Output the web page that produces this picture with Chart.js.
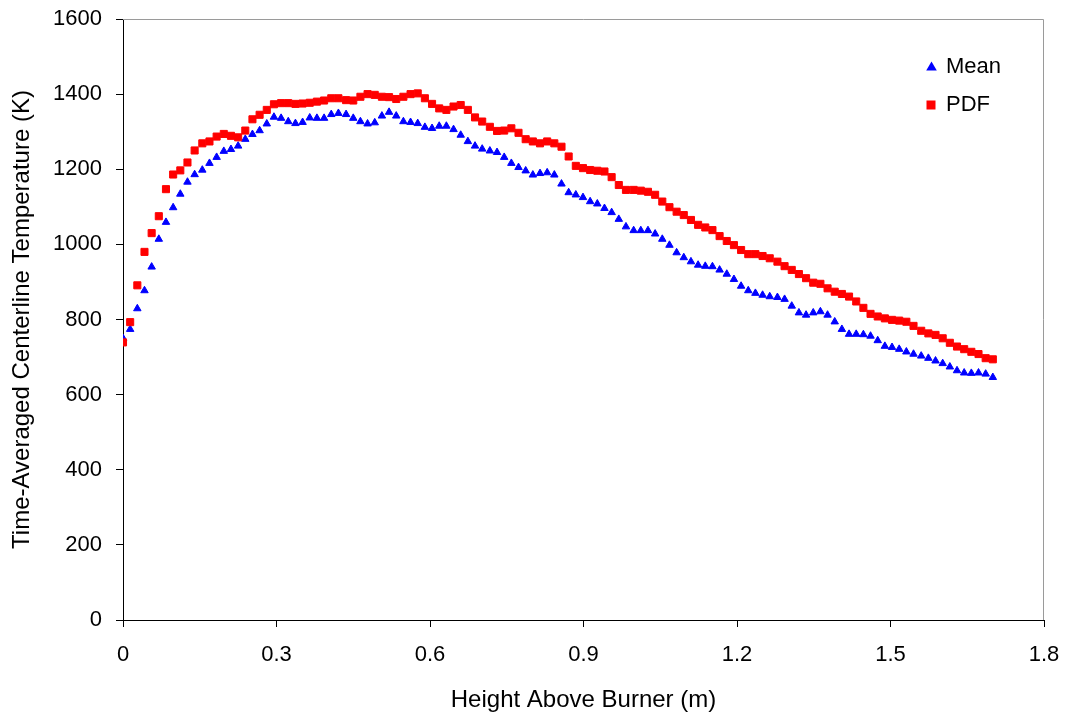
<!DOCTYPE html>
<html>
<head>
<meta charset="utf-8">
<script src="https://cdn.jsdelivr.net/npm/chart.js@4/dist/chart.umd.min.js"></script>
<style>
  html, body { margin: 0; padding: 0; background: #ffffff; }
  #wrap { width: 1067px; height: 713px; position: relative; }
  canvas { display: block; }
</style>
</head>
<body>
<div id="wrap"><canvas id="c" width="1067" height="713"></canvas></div>
<script>
// Height above burner (m)
const heights = [
  0, 0.014, 0.028, 0.042, 0.056, 0.070, 0.084, 0.098, 0.112, 0.126,
  0.140, 0.155, 0.169, 0.183, 0.197, 0.211, 0.225, 0.239, 0.253, 0.267,
  0.281, 0.295, 0.309, 0.323, 0.337, 0.351, 0.365, 0.379, 0.393, 0.407,
  0.421, 0.436, 0.450, 0.464, 0.478, 0.492, 0.506, 0.520, 0.534, 0.548,
  0.562, 0.576, 0.590, 0.604, 0.618, 0.632, 0.646, 0.660, 0.674, 0.688,
  0.702, 0.717, 0.731, 0.745, 0.759, 0.773, 0.787, 0.801, 0.815, 0.829,
  0.843, 0.857, 0.871, 0.885, 0.899, 0.913, 0.927, 0.941, 0.955, 0.969,
  0.983, 0.998, 1.012, 1.026, 1.040, 1.054, 1.068, 1.082, 1.096, 1.110,
  1.124, 1.138, 1.152, 1.166, 1.180, 1.194, 1.208, 1.222, 1.236, 1.250,
  1.264, 1.279, 1.293, 1.307, 1.321, 1.335, 1.349, 1.363, 1.377, 1.391,
  1.405, 1.419, 1.433, 1.447, 1.461, 1.475, 1.489, 1.503, 1.517, 1.531,
  1.545, 1.560, 1.574, 1.588, 1.602, 1.616, 1.630, 1.644, 1.658, 1.672,
  1.686, 1.700
];

// Mean temperature (K)
const meanTemp = [
  750, 774, 829, 877, 940, 1014, 1059, 1098, 1134, 1166,
  1186, 1198, 1216, 1232, 1248, 1253, 1262, 1280, 1293, 1303,
  1321, 1339, 1336, 1327, 1322, 1325, 1337, 1336, 1336, 1346,
  1349, 1346, 1336, 1327, 1321, 1324, 1342, 1352, 1342, 1327,
  1325, 1322, 1312, 1309, 1315, 1315, 1306, 1291, 1274, 1262,
  1254, 1249, 1245, 1232, 1216, 1205, 1196, 1185, 1189, 1191,
  1185, 1161, 1138, 1132, 1125, 1114, 1108, 1096, 1085, 1067,
  1047, 1037, 1037, 1037, 1028, 1014, 998, 978, 965, 954,
  945, 942, 941, 932, 921, 907, 889, 877, 870, 865,
  861, 859, 854, 836, 818, 812, 818, 821, 812, 794,
  774, 761, 761, 760, 756, 744, 729, 726, 721, 714,
  708, 703, 697, 690, 683, 674, 664, 658, 657, 658,
  655, 646
];

// PDF temperature (K)
const pdfTemp = [
  739, 793, 891, 980, 1030, 1075, 1147, 1186, 1197, 1218,
  1250, 1269, 1274, 1287, 1294, 1289, 1285, 1303, 1333, 1345,
  1358, 1373, 1376, 1376, 1374, 1375, 1377, 1380, 1383, 1389,
  1389, 1384, 1383, 1393, 1400, 1398, 1393, 1392, 1387, 1393,
  1400, 1402, 1389, 1374, 1362, 1358, 1367, 1371, 1358, 1338,
  1327, 1313, 1302, 1303, 1309, 1297, 1280, 1274, 1269, 1274,
  1269, 1260, 1234, 1209, 1203, 1198, 1196, 1194, 1179, 1158,
  1145, 1145, 1143, 1140, 1132, 1114, 1099, 1087, 1078, 1065,
  1052, 1045, 1038, 1022, 1009, 998, 985, 974, 974, 969,
  963, 954, 942, 932, 921, 910, 898, 895, 883, 874,
  868, 861, 848, 831, 815, 808, 803, 799, 797, 794,
  783, 770, 763, 759, 750, 738, 728, 721, 714, 708,
  697, 694
];

const seriesLabels = ["Mean", "PDF"];
const xAxisTitle = "Height Above Burner (m)";
const yAxisTitle = "Time-Averaged Centerline Temperature (K)";
const xTickLabels = ["0", "0.3", "0.6", "0.9", "1.2", "1.5", "1.8"];
const yTickLabels = ["0", "200", "400", "600", "800", "1000", "1200", "1400", "1600"];

const FONT = "'Liberation Sans', Arial, Helvetica, sans-serif";

function toPoints(xs, ys) { return xs.map((x, i) => ({ x: x, y: ys[i] })); }

const plotBorder = {
  id: 'plotBorder',
  beforeDatasetsDraw(chart) {
    const { ctx, chartArea: a } = chart;
    ctx.save();
    ctx.strokeStyle = '#9a9a9a';
    ctx.lineWidth = 1;
    ctx.beginPath();
    ctx.moveTo(a.left, a.top + 0.5);
    ctx.lineTo(a.right - 0.5, a.top + 0.5);
    ctx.lineTo(a.right - 0.5, a.bottom);
    ctx.stroke();
    ctx.restore();
  }
};

const customLegend = {
  id: 'customLegend',
  afterDraw(chart) {
    const ctx = chart.ctx;
    ctx.save();
    ctx.font = "22px " + FONT;
    ctx.textAlign = 'left';
    ctx.textBaseline = 'middle';
    // Mean: blue triangle
    const mx = 931.5, my = 67;
    ctx.fillStyle = '#0000ff';
    ctx.beginPath();
    ctx.moveTo(mx, my - 5.5);
    ctx.lineTo(mx + 5.3, my + 3.5);
    ctx.lineTo(mx - 5.3, my + 3.5);
    ctx.closePath();
    ctx.fill();
    ctx.fillStyle = '#000';
    ctx.fillText(chart.data.datasets[0].label, 946, 66.5);
    // PDF: red square
    ctx.fillStyle = '#ff0000';
    ctx.fillRect(926.5, 100.5, 9, 9);
    ctx.fillStyle = '#000';
    ctx.fillText(chart.data.datasets[1].label, 946, 104.5);
    ctx.restore();
  }
};

const chart = new Chart(document.getElementById('c'), {
  type: 'scatter',
  data: {
    datasets: [
      {
        label: seriesLabels[0],
        data: toPoints(heights, meanTemp),
        pointStyle: 'triangle',
        pointRadius: 4.3,
        pointBorderWidth: 1,
        backgroundColor: '#0000ff',
        borderColor: '#0000ff',
        showLine: false,
        order: 2
      },
      {
        label: seriesLabels[1],
        data: toPoints(heights, pdfTemp),
        pointStyle: 'rect',
        pointRadius: 5,
        pointBorderWidth: 1,
        backgroundColor: '#ff0000',
        borderColor: '#ff0000',
        showLine: false,
        order: 1
      }
    ]
  },
  options: {
    responsive: false,
    animation: false,
    devicePixelRatio: 1,
    layout: { padding: { left: 0, top: 19, right: 23, bottom: 0 } },
    plugins: {
      legend: { display: false },
      tooltip: { enabled: false },
      title: { display: false }
    },
    scales: {
      x: {
        type: 'linear',
        position: 'bottom',
        min: 0,
        max: 1.8,
        afterFit: s => {
          s.height = 93;
          s.paddingLeft = 0; s.paddingRight = 0; s.paddingTop = 0; s.paddingBottom = 0;
        },
        afterBuildTicks: s => { s.ticks = xTickLabels.map(t => ({ value: parseFloat(t) })); },
        ticks: {
          stepSize: 0.3,
          autoSkip: false,
          maxRotation: 0,
          padding: 15,
          color: '#000',
          font: { family: FONT, size: 22 },
          callback: (v, i) => xTickLabels[i]
        },
        grid: { drawOnChartArea: false, drawTicks: true, tickLength: 7, color: '#000', lineWidth: 1 },
        border: { display: true, color: '#000', width: 1 },
        title: {
          display: true,
          text: xAxisTitle,
          color: '#000',
          font: { family: FONT, size: 24, lineHeight: 1 },
          padding: { top: 0, bottom: 1 }
        }
      },
      y: {
        type: 'linear',
        position: 'left',
        min: 0,
        max: 1600,
        afterFit: s => {
          s.width = 123;
          s.paddingLeft = 0; s.paddingRight = 0; s.paddingTop = 0; s.paddingBottom = 0;
        },
        afterBuildTicks: s => { s.ticks = yTickLabels.map(t => ({ value: parseFloat(t) })); },
        ticks: {
          stepSize: 200,
          padding: 14,
          color: '#000',
          font: { family: FONT, size: 22 },
          callback: (v, i) => yTickLabels[i]
        },
        grid: { drawOnChartArea: false, drawTicks: true, tickLength: 7, color: '#000', lineWidth: 1 },
        border: { display: true, color: '#000', width: 1 },
        title: {
          display: true,
          text: yAxisTitle,
          color: '#000',
          font: { family: FONT, size: 24, lineHeight: 1 },
          padding: { top: 10, bottom: 0 }
        }
      }
    }
  },
  plugins: [plotBorder, customLegend]
});
</script>
</body>
</html>
